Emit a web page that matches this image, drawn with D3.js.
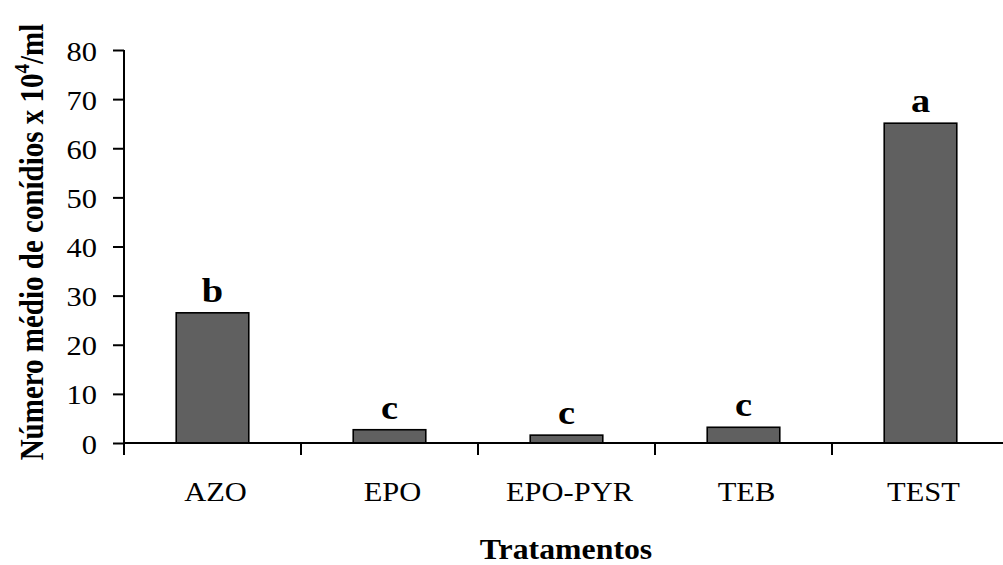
<!DOCTYPE html>
<html>
<head>
<meta charset="utf-8">
<script src="https://cdn.jsdelivr.net/npm/d3@7"></script>
<style>
  html, body { margin: 0; padding: 0; background: #fff; }
  svg { display: block; font-family: "Liberation Serif", "Times New Roman", serif; }
</style>
</head>
<body>
<svg id="chart" width="1003" height="565"></svg>
<script>
// Treatments and mean conidia count (x 10^4 / ml)
const categories = ["AZO", "EPO", "EPO-PYR", "TEB", "TEST"];
const values = [26.5, 2.7, 1.6, 3.2, 65.1];
const letters = ["b", "c", "c", "c", "a"];
const yTicks = [0, 10, 20, 30, 40, 50, 60, 70, 80];

const svg = d3.select("#chart");
const plotLeft = 124, plotRight = 1009, plotTop = 50, plotBottom = 443;
const stretch = 1.13; // slightly wide lettering

const x = d3.scaleBand().domain(categories).range([plotLeft, plotRight]).paddingInner(0.59).paddingOuter(0.295);
const y = d3.scaleLinear().domain([0, 80]).range([plotBottom, plotTop]);

// Bars
svg.append("g").selectAll("rect")
  .data(categories)
  .join("rect")
  .attr("x", d => x(d))
  .attr("y", (d, i) => y(values[i]))
  .attr("width", x.bandwidth())
  .attr("height", (d, i) => y(0) - y(values[i]))
  .attr("fill", "#606060")
  .attr("stroke", "#000")
  .attr("stroke-width", 1.6);

// Significance letters
svg.append("g").selectAll("text")
  .data(categories)
  .join("text")
  .attr("transform", (d, i) => `translate(${x(d) + x.bandwidth() / 2},${y(values[i]) - 11}) scale(${stretch},1)`)
  .attr("text-anchor", "middle")
  .attr("font-size", 34)
  .attr("font-weight", "bold")
  .text((d, i) => letters[i]);

// Y axis
const yAxis = svg.append("g")
  .attr("transform", `translate(${plotLeft},0)`)
  .call(d3.axisLeft(y).tickValues(yTicks).tickSize(11).tickPadding(11).tickSizeOuter(0));
yAxis.select(".domain").attr("stroke", "#000").attr("stroke-width", 2).attr("d", `M0,${plotBottom + 12}V${plotTop}`);
yAxis.selectAll(".tick line").attr("stroke", "#000").attr("stroke-width", 2);
yAxis.selectAll(".tick text")
  .attr("font-size", 27).attr("fill", "#000")
  .attr("font-family", "Liberation Serif, Times New Roman, serif")
  .attr("x", null).attr("dy", null)
  .attr("transform", `translate(-27,10) scale(${stretch},1)`);

// X axis: ticks at band boundaries
const xAxisG = svg.append("g");
xAxisG.append("line")
  .attr("x1", plotLeft).attr("x2", plotRight).attr("y1", plotBottom).attr("y2", plotBottom)
  .attr("stroke", "#000").attr("stroke-width", 2);
const boundaries = categories.map(d => x(d) - x.step() * x.paddingInner() / 2);
xAxisG.selectAll("line.tk")
  .data(boundaries)
  .join("line")
  .attr("class", "tk")
  .attr("x1", d => d).attr("x2", d => d)
  .attr("y1", plotBottom).attr("y2", plotBottom + 12)
  .attr("stroke", "#000").attr("stroke-width", 2);
xAxisG.selectAll("text")
  .data(categories)
  .join("text")
  .attr("transform", d => `translate(${x(d) + x.bandwidth() / 2 + 3},501) scale(${stretch},1)`)
  .attr("text-anchor", "middle")
  .attr("font-size", 27)
  .text(d => d);

// Axis titles
svg.append("text")
  .attr("transform", `translate(566,559) scale(1.06,1)`)
  .attr("text-anchor", "middle")
  .attr("font-size", 30)
  .attr("font-weight", "bold")
  .text("Tratamentos");

const yt = svg.append("text")
  .attr("transform", `translate(43,242) scale(${stretch},1) rotate(-90)`)
  .attr("text-anchor", "middle")
  .attr("font-size", 29)
  .attr("font-weight", "bold");
yt.append("tspan").text("Número médio de conídios x 10");
yt.append("tspan").attr("dy", -12).attr("font-size", 19).text("4");
yt.append("tspan").attr("dy", 12).text("/ml");
</script>
</body>
</html>
